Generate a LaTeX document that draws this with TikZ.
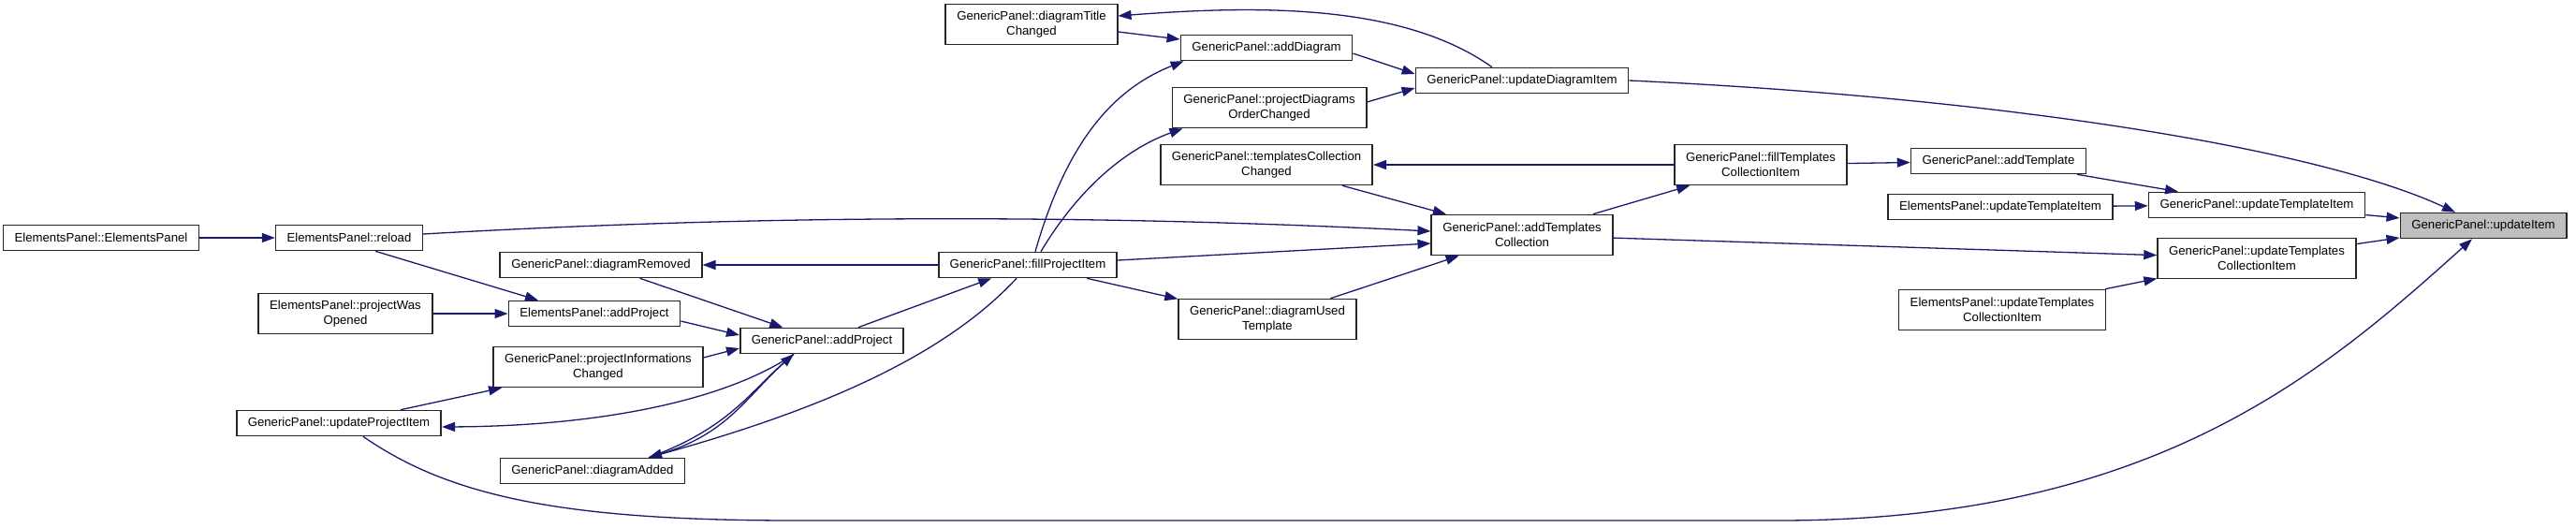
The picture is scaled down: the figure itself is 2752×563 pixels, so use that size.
\documentclass[tikz,border=0pt]{standalone}
\usepackage{fontspec}
\setmainfont{Liberation Sans}
\usepackage{xcolor}
\usepackage{tikz}
\usetikzlibrary{arrows.meta}
\definecolor{edgeblue}{HTML}{191970}
\definecolor{focusgray}{HTML}{BFBFBF}

\begin{document}
\begin{tikzpicture}[
  x=0.5pt, y=-0.5pt,
  font=\fontsize{6.6}{8}\selectfont,
  func/.style={rectangle, draw=black!85, line width=0.8pt, fill=white, inner xsep=6pt, inner ysep=2pt, minimum height=13.5pt, align=center},
  twoline/.style={func, minimum height=21.5pt},
  focus/.style={func, fill=focusgray},
  call/.style={draw=edgeblue, line width=0.65pt, -{Triangle[length=7pt, width=5pt]}}
]
\useasboundingbox (0,0) rectangle (2752,563);
\node (epCtor) [func] at (108,254) {ElementsPanel::ElementsPanel};
\node (epReload) [func] at (373,254) {ElementsPanel::reload};
\node (epWasOpened) [twoline] at (369,335) {ElementsPanel::projectWas\\Opened};
\node (gpUpdProj) [func] at (362,452) {GenericPanel::updateProjectItem};
\node (gpDiagRemoved) [func] at (642,283) {GenericPanel::diagramRemoved};
\node (epAddProject) [func] at (635,335) {ElementsPanel::addProject};
\node (gpProjInfo) [twoline] at (639,392) {GenericPanel::projectInformations\\Changed};
\node (gpDiagAdded) [func] at (633,503) {GenericPanel::diagramAdded};
\node (gpAddProject) [func] at (878,364) {GenericPanel::addProject};
\node (gpFillProj) [func] at (1098,283) {GenericPanel::fillProjectItem};
\node (gpDiagTitle) [twoline] at (1102,26) {GenericPanel::diagramTitle\\Changed};
\node (gpAddDiagram) [func] at (1353,51) {GenericPanel::addDiagram};
\node (gpDiagOrder) [twoline] at (1356,115) {GenericPanel::projectDiagrams\\OrderChanged};
\node (gpTplChanged) [twoline] at (1353,176) {GenericPanel::templatesCollection\\Changed};
\node (gpDiagUsedTpl) [twoline] at (1354,341) {GenericPanel::diagramUsed\\Template};
\node (gpUpdDiag) [func] at (1626,86) {GenericPanel::updateDiagramItem};
\node (gpAddTplColl) [twoline] at (1626,251) {GenericPanel::addTemplates\\Collection};
\node (gpFillTplColl) [twoline] at (1881,176) {GenericPanel::fillTemplates\\CollectionItem};
\node (gpAddTpl) [func] at (2135,172) {GenericPanel::addTemplate};
\node (epUpdTpl) [func] at (2137,221) {ElementsPanel::updateTemplateItem};
\node (gpUpdTpl) [func] at (2411,219) {GenericPanel::updateTemplateItem};
\node (gpUpdTplColl) [twoline] at (2411,276) {GenericPanel::updateTemplates\\CollectionItem};
\node (epUpdTplColl) [twoline] at (2139,331) {ElementsPanel::updateTemplates\\CollectionItem};
\node (gpUpdateItem) [focus] at (2653,241) {GenericPanel::updateItem};
\draw[call] (epCtor) -- (epReload);
\draw[call] ([xshift=14pt]epReload.south) -- ([xshift=-30pt]epAddProject.north);
\draw[call] ([yshift=2pt]epReload.east) .. controls (800,230) and (1150,228) .. ([yshift=2pt]gpAddTplColl.west);
\draw[call] (epWasOpened) -- (epAddProject);
\draw[call] (gpUpdProj) -- (gpProjInfo);
\draw[call] ([xshift=13pt]gpUpdProj.south) .. controls (480,530) and (600,556) .. (850,556) -- (1900,556) .. controls (2300,556) and (2480,400) .. ([xshift=-6pt]gpUpdateItem.south);
\draw[call] (gpFillProj) -- (gpDiagRemoved);
\draw[call] (gpDiagRemoved) -- (gpAddProject);
\draw[call] ([yshift=-4pt]epAddProject.east) -- ([yshift=3pt]gpAddProject.west);
\draw[call] ([yshift=5pt]gpProjInfo.east) -- ([yshift=-4pt]gpAddProject.west);
\draw[call] (gpAddProject) -- (gpFillProj);
\draw[call] ([xshift=-15pt]gpAddProject.south) .. controls (780,425) and (650,455) .. ([yshift=-2pt]gpUpdProj.east);
\draw[call] ([xshift=-15pt]gpAddProject.south) .. controls (798,420) and (782,462) .. ([xshift=30pt]gpDiagAdded.north);
\draw[call] ([xshift=30pt]gpDiagAdded.north) .. controls (778,458) and (802,418) .. ([xshift=-15pt]gpAddProject.south);
\draw[call] ([xshift=-6pt]gpFillProj.south) .. controls (1000,390) and (850,445) .. ([xshift=30pt]gpDiagAdded.north);
\draw[call] ([xshift=4pt]gpFillProj.north) .. controls (1140,150) and (1190,95) .. ([xshift=2pt]gpAddDiagram.south west);
\draw[call] ([xshift=7pt]gpFillProj.north) .. controls (1150,205) and (1200,160) .. ([xshift=6pt]gpDiagOrder.south west);
\draw[call] ([yshift=-4pt]gpDiagTitle.east) -- ([yshift=4.5pt]gpAddDiagram.west);
\draw[call] ([yshift=-3pt]gpAddDiagram.east) -- ([yshift=3.5pt]gpUpdDiag.west);
\draw[call] ([yshift=3pt]gpDiagOrder.east) -- ([yshift=-4pt]gpUpdDiag.west);
\draw[call] ([xshift=-16pt]gpUpdDiag.north) .. controls (1500,5) and (1350,5) .. ([yshift=4.5pt]gpDiagTitle.east);
\draw[call] (gpUpdDiag.east) .. controls (2150,105) and (2480,160) .. ([xshift=-15pt]gpUpdateItem.north);
\draw[call] ([yshift=2.5pt]gpFillProj.east) -- ([yshift=-4.5pt]gpAddTplColl.west);
\draw[call] (gpFillProj) -- (gpDiagUsedTpl);
\draw[call] (gpDiagUsedTpl) -- (gpAddTplColl);
\draw[call] (gpTplChanged) -- (gpAddTplColl);
\draw[call] (gpFillTplColl) -- (gpTplChanged);
\draw[call] (gpAddTplColl) -- (gpFillTplColl);
\draw[call] (gpAddTplColl) -- (gpUpdTplColl);
\draw[call] (gpFillTplColl) -- (gpAddTpl);
\draw[call] (gpAddTpl) -- (gpUpdTpl);
\draw[call] (epUpdTpl) -- (gpUpdTpl);
\draw[call] (epUpdTplColl) -- (gpUpdTplColl);
\draw[call] (gpUpdTpl) -- (gpUpdateItem);
\draw[call] (gpUpdTplColl) -- (gpUpdateItem);
\end{tikzpicture}
\end{document}
